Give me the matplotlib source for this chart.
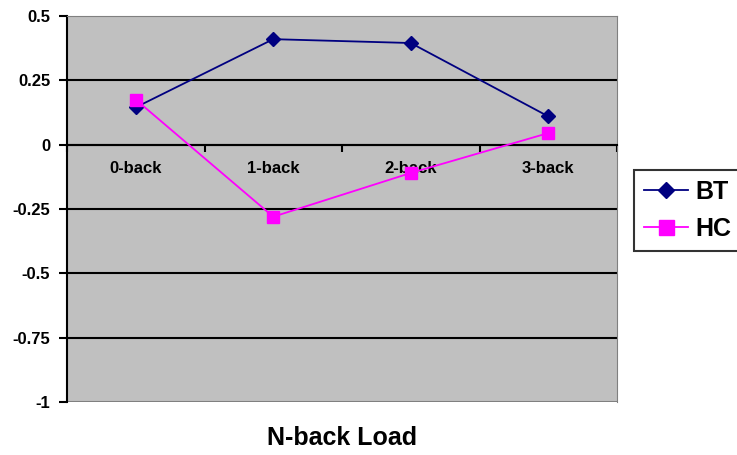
import numpy as np
import matplotlib.pyplot as plt

# Data
categories = ["0-back", "1-back", "2-back", "3-back"]
bt_values = [0.145, 0.41, 0.395, 0.11]
hc_values = [0.175, -0.28, -0.11, 0.045]
y_ticks = [-1, -0.75, -0.5, -0.25, 0, 0.25, 0.5]
y_tick_labels = ["-1", "-0.75", "-0.5", "-0.25", "0", "0.25", "0.5"]

plt.rcParams['font.family'] = ['Liberation Sans', 'DejaVu Sans']
plt.rcParams['font.weight'] = 'bold'

fig = plt.figure(figsize=(7.37, 4.55), dpi=100)
ax = fig.add_axes([67 / 737, 1 - 402 / 455, 550 / 737, 386 / 455])
ax.set_facecolor('#C0C0C0')

x = np.arange(len(categories))
ax.set_xlim(-0.5, len(categories) - 0.5)
ax.set_ylim(-1, 0.5)

# horizontal gridlines
for v in y_ticks[1:-1]:
    ax.axhline(v, color='black', linewidth=1.5, zorder=1)

ax.plot(x, bt_values, color='#000080', linewidth=1.3, marker='D', markersize=7,
        label='BT', zorder=3)
ax.plot(x, hc_values, color='#FF00FF', linewidth=1.3, marker='s', markersize=9,
        label='HC', zorder=3)

# axes styling
ax.spines['left'].set_color('black')
ax.spines['left'].set_linewidth(1.5)
ax.spines['top'].set_color('#808080')
ax.spines['right'].set_color('#808080')
ax.spines['bottom'].set_position(('data', 0))
ax.spines['bottom'].set_color('black')
ax.spines['bottom'].set_linewidth(1.5)
ax.axhline(-1, color='#808080', linewidth=1.5, zorder=2)

ax.set_yticks(y_ticks)
ax.set_yticklabels(y_tick_labels, fontsize=12, fontweight='bold')
ax.tick_params(axis='y', direction='out', length=6, width=1.5, pad=6)

ax.set_xticks(np.arange(len(categories) + 1) - 0.5)
ax.set_xticklabels([])
ax.tick_params(axis='x', which='major', direction='out', length=5, width=1.5)
ax.set_xticks(x, minor=True)
ax.set_xticklabels(categories, minor=True, fontsize=12, fontweight='bold')
ax.tick_params(axis='x', which='minor', length=0, pad=12)

fig.text(342 / 737, 1 - 438 / 455, "N-back Load", ha='center', va='center',
         fontsize=18, fontweight='bold')

leg = fig.legend(loc='upper left', bbox_to_anchor=(634 / 737, 1 - 170 / 455),
                 bbox_transform=fig.transFigure, frameon=True, fancybox=False,
                 prop={'size': 18, 'weight': 'bold'}, handlelength=1.75,
                 borderpad=0.4, labelspacing=0.5, handletextpad=0.3,
                 borderaxespad=0, markerscale=1.2)
leg.get_frame().set_edgecolor('black')
leg.get_frame().set_linewidth(1.5)

fig.savefig("out.png", dpi=100)
